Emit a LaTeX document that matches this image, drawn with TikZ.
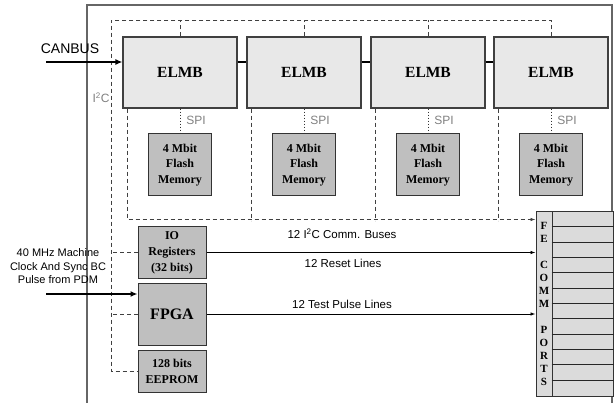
\documentclass[tikz,border=0pt]{standalone}
\usepackage{fontspec}
\setmainfont{Liberation Serif}
\setsansfont{Liberation Sans}
\usetikzlibrary{arrows.meta}
\begin{document}
\begin{tikzpicture}[x=1pt,y=-1pt,
  elmbbox/.style={draw=black!75, fill=black!9, line width=1.1pt, minimum width=114pt, minimum height=71pt, inner sep=0pt, font=\fontsize{15.5}{18}\selectfont\bfseries},
  flashbox/.style={draw=black!80, fill=black!25, line width=1pt, minimum width=63pt, minimum height=62pt, inner sep=0pt, align=center, font=\fontsize{12}{15.5}\selectfont\bfseries},
  sidebox/.style={draw=black!80, fill=black!25, line width=1pt, minimum width=68pt, inner sep=0pt, align=center, font=\fontsize{12}{16}\selectfont\bfseries},
  busdash/.style={dash pattern=on 4pt off 3pt, line width=0.8pt, draw=black!75},
  spidot/.style={dash pattern=on 1.5pt off 1.5pt, line width=0.7pt, draw=black!80},
  sigline/.style={line width=0.8pt, -{Latex[length=5pt,width=3.5pt]}},
  fatarrow/.style={line width=2.5pt, -{Latex[length=7pt,width=6pt]}},
  lbl/.style={font=\sffamily\fontsize{11.5}{13.5}\selectfont, inner sep=0pt},
  graylbl/.style={font=\sffamily\fontsize{12}{14}\selectfont, text=black!50, inner sep=0pt}
]
\useasboundingbox (0,0) rectangle (615,403);
% outer border
\draw[draw=black!60, line width=1.3pt] (87,403) -- (87,5) -- (612,5) -- (612,403);

% ELMBs
\node[elmbbox] (e1) at (180,72.5) {ELMB};
\node[elmbbox] (e2) at (304,72.5) {ELMB};
\node[elmbbox] (e3) at (428,72.5) {ELMB};
\node[elmbbox] (e4) at (551,72.5) {ELMB};

% Flash
\foreach \i in {1,2,3,4}{
  \node[flashbox] (f\i) at (e\i.center |- {(0,165)}) {4 Mbit\\Flash\\Memory};
  \draw[spidot] (e\i.south) -- (f\i.north);
  \node[graylbl] (spi\i) at ([xshift=16pt,yshift=-12pt]e\i.south) {SPI};
}

% side boxes
\node[sidebox, minimum height=51pt] (io) at (172,252.5) {IO\\Registers\\(32 bits)};
\node[sidebox, minimum height=62pt, font=\fontsize{16}{18}\selectfont\bfseries] (fpga) at (172,314) {FPGA};
\node[sidebox, minimum height=42pt] (eeprom) at (172,371) {128 bits\\EEPROM};

% FE COMM PORTS
\node[draw=black!80, fill=black!14, line width=1pt, minimum width=16pt, minimum height=184pt, inner sep=0pt] (fecol) at (544,304) {};
\node[draw=black!80, fill=black!14, line width=1pt, minimum width=61pt, minimum height=184pt, inner sep=0pt] (fecells) at (582.5,304) {};
\foreach \k in {1,...,11}{
  \draw[line width=0.9pt, draw=black!85] ([yshift=-\k*15.333pt]fecells.north west) -- ([yshift=-\k*15.333pt]fecells.north east);
}
\node[align=center, inner sep=0pt, font=\fontsize{11}{13}\selectfont\bfseries] (felbl) at (fecol.center) {F\\E\\[13pt]C\\O\\M\\M\\[13pt]P\\O\\R\\T\\S};

% top dashed bus
\coordinate (tl) at (111,20);
\draw[busdash] (e4.north) |- (tl) |- (eeprom.west);
\draw[busdash] (e1.north) -- (e1.north |- tl);
\draw[busdash] (e2.north) -- (e2.north |- tl);
\draw[busdash] (e3.north) -- (e3.north |- tl);
\draw[busdash] (io.west) -- (io.west -| tl);
\draw[busdash] (fpga.west) -- (fpga.west -| tl);
\node[graylbl] (i2c) at (101,98) {I\textsuperscript{2}C};

% bottom I2C bus to FE
\draw[busdash, -{Latex[length=5pt,width=3.5pt]}] ([xshift=5pt]e1.south west) |- ([yshift=-8pt]fecol.north west);
\draw[busdash] ([xshift=5pt]e2.south west) -- ++(0,112);
\draw[busdash] ([xshift=5pt]e3.south west) -- ++(0,112);
\draw[busdash] ([xshift=5pt]e4.south west) -- ++(0,112);

% signal lines
\draw[sigline] (io.east) -- (io.east -| fecol.west);
\draw[sigline] (fpga.east) -- (fpga.east -| fecol.west);
\node[lbl] (lb1) at (342,233.5) {12 I\textsuperscript{2}C Comm. Buses};
\node[lbl] (lb2) at (343,263.5) {12 Reset Lines};
\node[lbl] (lb3) at (342,304) {12 Test Pulse Lines};

% CANBUS
\coordinate (can) at (46,62);
\draw[fatarrow] (can) -- (can -| e1.west);
\node[font=\sffamily\fontsize{14}{16}\selectfont, inner sep=0pt] (canlbl) at (70,49) {CANBUS};
\draw[line width=2.5pt] (e1.east |- can) -- (e2.west |- can);
\draw[line width=2.5pt] (e2.east |- can) -- (e3.west |- can);
\draw[line width=2.5pt] (e3.east |- can) -- (e4.west |- can);

% clock
\coordinate (clk) at (46,294);
\draw[fatarrow] (clk) -- (clk -| fpga.west);
\node[lbl, align=center, font=\sffamily\fontsize{11}{13.5}\selectfont] (clklbl) at (58,266.5) {40 MHz Machine\\Clock And Sync BC\\Pulse from PDM};
\end{tikzpicture}
\end{document}
